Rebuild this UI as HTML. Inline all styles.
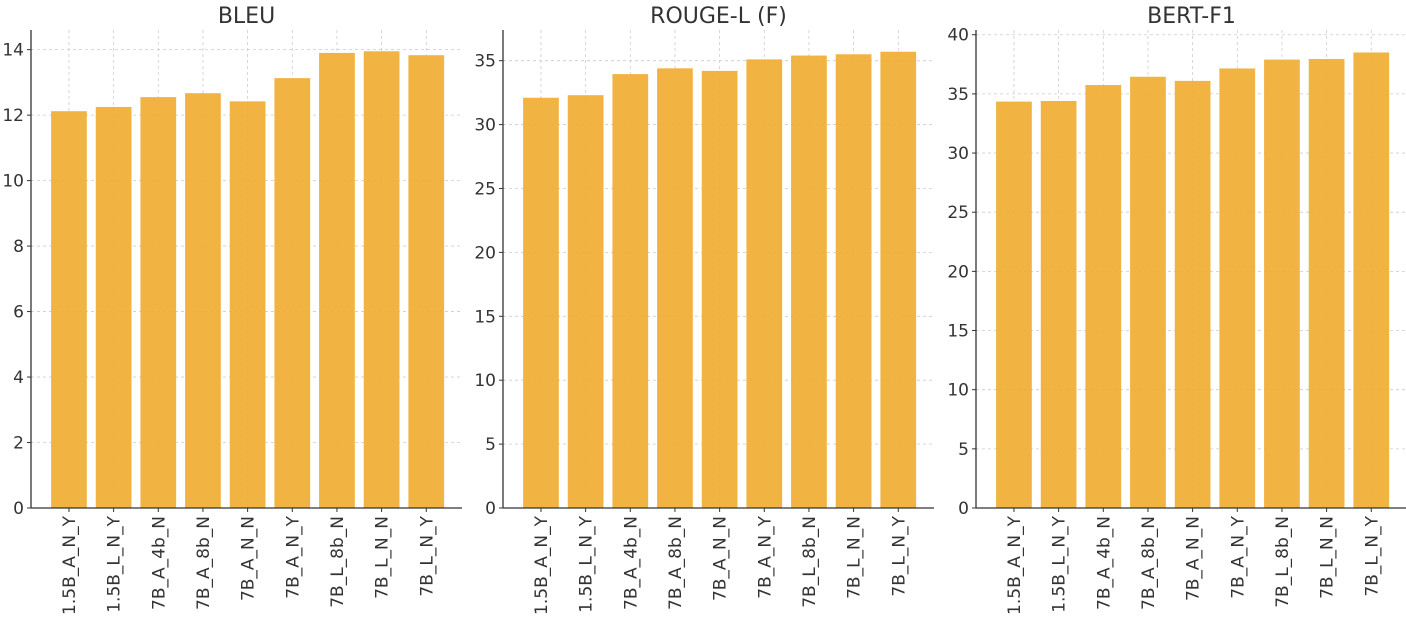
<!DOCTYPE html>
<html><head><meta charset="utf-8"><style>
body{margin:0;background:#fff;overflow:hidden;}
svg{display:block;font-family:"DejaVu Sans","Liberation Sans",sans-serif;}
</style></head><body>
<svg id="chart" width="1406" height="618"></svg>
<script>
const categories = ["1.5B_A_N_Y","1.5B_L_N_Y","7B_A_4b_N","7B_A_8b_N","7B_A_N_N","7B_A_N_Y","7B_L_8b_N","7B_L_N_N","7B_L_N_Y"];
const bleuValues = [12.12,12.25,12.55,12.67,12.42,13.13,13.9,13.95,13.83];
const rougeValues = [32.1,32.3,33.95,34.4,34.2,35.1,35.4,35.5,35.7];
const bertValues = [34.35,34.4,35.75,36.45,36.1,37.15,37.9,37.95,38.5];
const bleuTicks = [0,2,4,6,8,10,12,14];
const rougeTicks = [0,5,10,15,20,25,30,35];
const bertTicks = [0,5,10,15,20,25,30,35,40];
const titles = ["BLEU","ROUGE-L (F)","BERT-F1"];

const NS="http://www.w3.org/2000/svg";
const svg=document.getElementById('chart');
function mk(tag,attrs,parent){const e=document.createElementNS(NS,tag);for(const k in attrs)e.setAttribute(k,attrs[k]);(parent||svg).appendChild(e);return e;}

const panels=[
 {x0:31,x1:462,ymax:14.6,vals:bleuValues,ticks:bleuTicks,key:'bleu'},
 {x0:503,x1:934,ymax:37.4,vals:rougeValues,ticks:rougeTicks,key:'rouge'},
 {x0:976,x1:1407,ymax:40.4,vals:bertValues,ticks:bertTicks,key:'bert'}
];
const yBase=508, yTop=30;
panels.forEach((p,pi)=>{
  const g=mk('g',{});
  
  
  const xs=i=>p.x0+(i+0.85)*(p.x1-p.x0)/9.65;
  const ys=v=>yBase-(v/p.ymax)*(yBase-yTop);
  const bw=0.8*(p.x1-p.x0)/9.65;
  p.ticks.forEach(t=>{
    const l=mk('line',{x1:p.x0,x2:p.x1,y1:ys(t),y2:ys(t),stroke:'#ccc','stroke-dasharray':'3,3','stroke-width':0.8},g);
    
    
  });
  categories.forEach((c,i)=>{
    const l=mk('line',{x1:xs(i),x2:xs(i),y1:yTop,y2:yBase,stroke:'#ccc','stroke-dasharray':'3,3','stroke-width':0.8},g);
    
    
  });
  p.vals.forEach((v,i)=>{
    const r=mk('rect',{x:xs(i)-bw/2,y:ys(v),width:bw,height:yBase-ys(v),fill:'#f0ad33','fill-opacity':0.93},g);
    
    
  });
  const ya=mk('line',{x1:p.x0,x2:p.x0,y1:yTop,y2:yBase,stroke:'#333','stroke-width':1.3},g);
  
  
  const xa=mk('line',{x1:p.x0,x2:p.x1,y1:yBase,y2:yBase,stroke:'#333','stroke-width':1.3},g);
  
  
  p.ticks.forEach(t=>{
    mk('line',{x1:p.x0-4,x2:p.x0,y1:ys(t),y2:ys(t),stroke:'#333'},g);
    const tx=mk('text',{x:p.x0-7,y:ys(t)+6,'text-anchor':'end','font-size':17,fill:'#333'},g);
    tx.textContent=t;
    
    
  });
  categories.forEach((c,i)=>{
    mk('line',{x1:xs(i),x2:xs(i),y1:yBase,y2:yBase+4,stroke:'#333'},g);
    const tx=mk('text',{transform:`translate(${xs(i)+6},${yBase+8}) rotate(-90)`,'text-anchor':'end','font-size':17,fill:'#333'},g);
    tx.textContent=c;
    
    
  });
  const tt=mk('text',{x:(p.x0+p.x1)/2,y:23,'text-anchor':'middle','font-size':22,fill:'#333'},g);
  tt.textContent=titles[pi];
  
  
});
</script>
</body></html>
